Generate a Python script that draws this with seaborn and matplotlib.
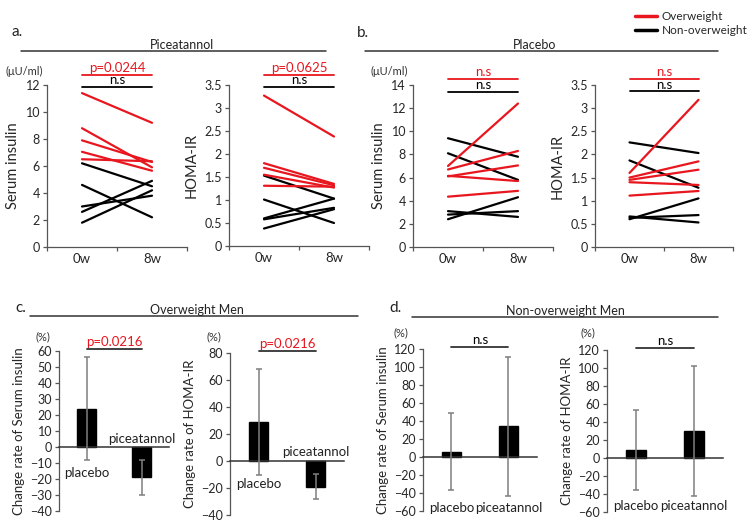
import numpy as np
import pandas as pd
import matplotlib
matplotlib.use("Agg")
import matplotlib.pyplot as plt
import seaborn as sns
from matplotlib.lines import Line2D
from matplotlib.ticker import FuncFormatter, MultipleLocator

sns.set_theme(style="white")
plt.rcParams['font.family'] = ['Lato', 'DejaVu Sans']

RED = "#e8161e"
GRAY = "#7f7f7f"

# ---------------- data ----------------
weeks = ["0w", "8w"]
groups_lbl = ["Overweight", "Non-overweight"]

# Piceatannol, serum insulin (uU/ml)
pic_ins_ow_0w = [11.4, 8.8, 7.9, 7.05, 6.5]
pic_ins_ow_8w = [9.2, 5.9, 6.3, 5.65, 6.35]
pic_ins_nw_0w = [6.2, 4.6, 3.0, 2.6, 1.8]
pic_ins_nw_8w = [4.5, 2.2, 3.8, 4.9, 4.2]
# Piceatannol, HOMA-IR
pic_homa_ow_0w = [3.27, 1.80, 1.70, 1.55, 1.31]
pic_homa_ow_8w = [2.38, 1.35, 1.32, 1.27, 1.29]
pic_homa_nw_0w = [1.53, 1.01, 0.60, 0.58, 0.38]
pic_homa_nw_8w = [1.03, 0.50, 1.03, 0.83, 0.80]
# Placebo, serum insulin
pla_ins_ow_0w = [7.0, 6.7, 6.1, 6.15, 4.35]
pla_ins_ow_8w = [12.4, 8.3, 7.05, 5.7, 4.85]
pla_ins_nw_0w = [9.4, 8.1, 3.1, 2.8, 2.4]
pla_ins_nw_8w = [7.8, 5.8, 2.6, 3.1, 4.3]
# Placebo, HOMA-IR
pla_homa_ow_0w = [1.6, 1.5, 1.45, 1.4, 1.11]
pla_homa_ow_8w = [3.18, 1.85, 1.67, 1.34, 1.21]
pla_homa_nw_0w = [2.26, 1.87, 0.63, 0.60, 0.66]
pla_homa_nw_8w = [2.03, 1.28, 0.69, 1.05, 0.53]

# change rates (%) : mean and SD
treatments = ["placebo", "piceatannol"]
ow_ins_mean = [24, -19]
ow_ins_sd = [32, 11]
ow_homa_mean = [29, -19]
ow_homa_sd = [39, 9.3]
nw_ins_mean = [6, 34]
nw_ins_sd = [43, 77]
nw_homa_mean = [9, 30]
nw_homa_sd = [44, 72]

W, H = 753, 526
fig = plt.figure(figsize=(W / 100, H / 100), dpi=100)


def rect(x0, x1, ytop, ybot):
    return [x0 / W, 1 - ybot / H, (x1 - x0) / W, (ybot - ytop) / H]


def fx(x):
    return x / W


def fy(y):
    return 1 - y / H


def long_df(ow0, ow8, nw0, nw8):
    rows = []
    for i, (a, b) in enumerate(zip(nw0, nw8)):
        rows.append(("n%d" % i, weeks[0], a, groups_lbl[1]))
        rows.append(("n%d" % i, weeks[1], b, groups_lbl[1]))
    for i, (a, b) in enumerate(zip(ow0, ow8)):
        rows.append(("o%d" % i, weeks[0], a, groups_lbl[0]))
        rows.append(("o%d" % i, weeks[1], b, groups_lbl[0]))
    return pd.DataFrame(rows, columns=["subject", "week", "value", "group"])


def style_axes(ax, ymax, ystep, ylabel, fmt=None, ymin=0, lsize=10.5):
    ax.set_ylim(ymin, ymax)
    ax.yaxis.set_major_locator(MultipleLocator(ystep))
    if fmt:
        ax.yaxis.set_major_formatter(FuncFormatter(lambda v, p: "%g" % v))
    for s in ["top", "right"]:
        ax.spines[s].set_visible(False)
    for s in ["left", "bottom"]:
        ax.spines[s].set_color("#555555")
        ax.spines[s].set_linewidth(0.9)
    ax.tick_params(axis="y", which="major", left=True, length=3, width=0.9,
                   color="#555555", labelsize=9, pad=2)
    ax.set_ylabel(ylabel, fontsize=lsize, labelpad=4)
    ax.set_xlabel("")
    ax.set_facecolor("none")
    ax.grid(False)


def sig(ax, y_frac, text, color, linecolor):
    ax.plot([0, 1], [y_frac, y_frac], transform=ax.get_xaxis_transform(),
            color=linecolor, lw=1.3, clip_on=False)
    ax.text(0.5, y_frac + 0.005, text, transform=ax.get_xaxis_transform(),
            ha="center", va="bottom", color=color, fontsize=9.5)


def line_panel(r, ow0, ow8, nw0, nw8, ymax, ystep, ylabel, sigs, fmt=False):
    ax = fig.add_axes(r)
    df = long_df(ow0, ow8, nw0, nw8)
    sns.lineplot(data=df, x="week", y="value", hue="group", units="subject",
                 estimator=None, palette={groups_lbl[0]: RED, groups_lbl[1]: "black"},
                 legend=False, lw=1.6, ax=ax)
    ax.set_xlim(-0.5, 1.5)
    style_axes(ax, ymax, ystep, ylabel, fmt)
    ax.set_xticks([0, 1])
    ax.set_xticklabels(weeks, fontsize=9.5)
    ax.set_xticks([-0.5, 0.5, 1.5], minor=True)
    ax.tick_params(axis="x", which="major", length=0, pad=4)
    ax.tick_params(axis="x", which="minor", bottom=True, length=3, width=0.9, color="#555555")
    for (yf, txt, c, lc) in sigs:
        sig(ax, yf, txt, c, lc)
    return ax


# ---------------- panels a & b ----------------
line_panel(rect(47, 187, 85, 247), pic_ins_ow_0w, pic_ins_ow_8w, pic_ins_nw_0w, pic_ins_nw_8w,
           12, 2, "Serum insulin",
           [(12.74 / 12, "p=0.0244", RED, RED), (11.85 / 12, "n.s", "black", "black")])
line_panel(rect(229, 369, 85, 246), pic_homa_ow_0w, pic_homa_ow_8w, pic_homa_nw_0w, pic_homa_nw_8w,
           3.5, 0.5, "HOMA-IR",
           [(3.72 / 3.5, "p=0.0625", RED, RED), (3.45 / 3.5, "n.s", "black", "black")], fmt=True)
line_panel(rect(413, 553, 85, 247), pla_ins_ow_0w, pla_ins_ow_8w, pla_ins_nw_0w, pla_ins_nw_8w,
           14, 2, "Serum insulin",
           [(14.5 / 14, "n.s", RED, RED), (13.4 / 14, "n.s", "black", "black")])
line_panel(rect(595, 733, 85, 247), pla_homa_ow_0w, pla_homa_ow_8w, pla_homa_nw_0w, pla_homa_nw_8w,
           3.5, 0.5, "HOMA-IR",
           [(3.63 / 3.5, "n.s", RED, RED), (3.36 / 3.5, "n.s", "black", "black")], fmt=True)


# ---------------- panels c & d ----------------
def bar_panel(px, r, means, sds, ymin, ymax, ystep, ylabel, sigtext, sigcolor, label_pos):
    ax = fig.add_axes(r)
    sns.barplot(x=treatments, y=means, color="black", saturation=1, width=0.35,
                edgecolor="black", errorbar=None, ax=ax)
    ax.errorbar(np.arange(len(means)), means, yerr=sds, fmt="none", ecolor=GRAY,
                elinewidth=1.1, capsize=2.5, capthick=1.1, zorder=3)
    ax.set_xlim(-0.5, 1.5)
    style_axes(ax, ymax, ystep, ylabel, ymin=ymin, lsize=9.5)
    ax.spines["bottom"].set_position(("data", 0))
    ax.spines["bottom"].set_color("#333333")
    ax.spines["bottom"].set_linewidth(1.1)
    ax.set_xticks([])
    for i, (t, yv) in enumerate(zip(treatments, label_pos)):
        ax.text(i, yv, t, ha="center", va="center", fontsize=9.5, color="#222222")
    yf = 1.0 + 2.0 / (r[3] * H)
    ax.plot([0, 1], [yf, yf], transform=ax.get_xaxis_transform(),
            color="#333333", lw=1.3, clip_on=False)
    ax.text(0.5, yf + 0.005, sigtext, transform=ax.get_xaxis_transform(),
            ha="center", va="bottom", color=sigcolor, fontsize=9.5)
    fig.text(fx(px[0]), fy(px[1]), "(%)", fontsize=8, ha="center", va="center",
             color="#333333")
    return ax


bar_panel((43, 337), rect(59, 169, 351, 511), ow_ins_mean, ow_ins_sd, -40, 60, 10,
          "Change rate of Serum insulin", "p=0.0216", RED, [-16, 5])
bar_panel((214, 337), rect(230, 344, 353, 515), ow_homa_mean, ow_homa_sd, -40, 80, 20,
          "Change rate of HOMA-IR", "p=0.0216", RED, [-17, 7])
bar_panel((401, 333), rect(423, 537, 349, 511), nw_ins_mean, nw_ins_sd, -60, 120, 20,
          "Change rate of Serum insulin", "n.s", "black", [-57, -57])
bar_panel((588, 333), rect(607, 723, 350, 512), nw_homa_mean, nw_homa_sd, -60, 120, 20,
          "Change rate of HOMA-IR", "n.s", "black", [-53, -53])

# ---------------- headers ----------------
def header(letter, lx, ly, title, tx, x0, x1, y):
    fig.text(fx(lx), fy(ly), letter, fontsize=11, ha="left", va="center", color="#222222")
    fig.text(fx(tx), fy(y - 6), title, fontsize=9, ha="center", va="center", color="#222222")
    fig.add_artist(Line2D([fx(x0), fx(x1)], [fy(y), fy(y)], color="#333333", lw=1.1))


header("a.", 12, 32, "Piceatannol", 182, 21, 326, 51)
header("b.", 357, 33, "Placebo", 535, 365, 718, 51)
header("c.", 15, 308, "Overweight Men", 197, 30, 358, 316)
header("d.", 389, 308, "Non-overweight Men", 565, 412, 718, 317)

fig.text(fx(24), fy(71), "(μU/ml)", fontsize=8, ha="center", va="center", color="#333333")
fig.text(fx(389), fy(71), "(μU/ml)", fontsize=8, ha="center", va="center", color="#333333")

# legend
handles = [Line2D([], [], color=RED, lw=2.5), Line2D([], [], color="black", lw=2.5)]
fig.legend(handles, groups_lbl, loc="upper left", bbox_to_anchor=(fx(630), fy(6)),
           frameon=False, fontsize=8.5, handlelength=1.9, handletextpad=0.4,
           labelspacing=0.3, borderaxespad=0)

fig.savefig("out.png", dpi=100, facecolor="white")
